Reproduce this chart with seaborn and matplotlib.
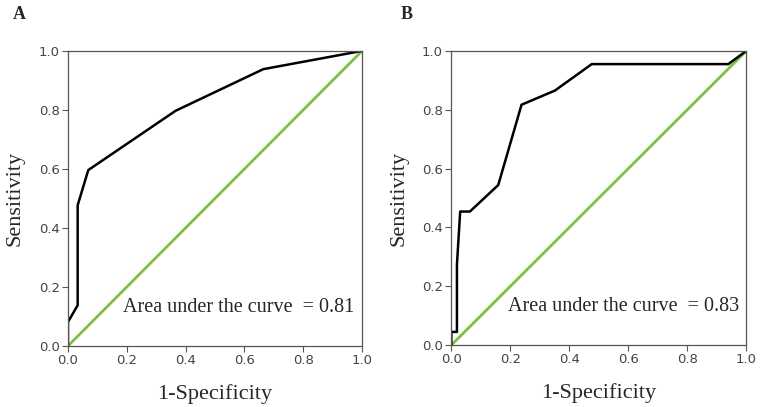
import matplotlib
matplotlib.use("Agg")
import matplotlib.pyplot as plt
import seaborn as sns
import pandas as pd

# Panel A ROC curve
fpr_a = [0.0, 0.0, 0.033, 0.033, 0.069, 0.366, 0.664, 1.0]
tpr_a = [0.0, 0.081, 0.138, 0.477, 0.596, 0.797, 0.938, 1.0]
# Panel B ROC curve
fpr_b = [0.0, 0.0, 0.019, 0.019, 0.030, 0.063, 0.159, 0.238, 0.351, 0.476, 0.939, 1.0]
tpr_b = [0.0, 0.045, 0.045, 0.274, 0.454, 0.454, 0.544, 0.817, 0.865, 0.955, 0.955, 1.0]
diag = [0.0, 1.0]
auc_labels = ["Area under the curve  = 0.81", "Area under the curve  = 0.83"]
panel_letters = ["A", "B"]
ticks = [0.0, 0.2, 0.4, 0.6, 0.8, 1.0]

sns.set_style("white")
fig = plt.figure(figsize=(7.62, 4.07), dpi=100)
ax_a = fig.add_axes([0.0892, 0.150, 0.386, 0.725])
ax_b = fig.add_axes([0.5923, 0.152, 0.3871, 0.723])

serif = ["Liberation Serif", "DejaVu Serif"]
green = "#7DC142"
for ax, fx, ty, lab in [(ax_a, fpr_a, tpr_a, auc_labels[0]),
                        (ax_b, fpr_b, tpr_b, auc_labels[1])]:
    sns.lineplot(x=diag, y=diag, ax=ax, color=green, lw=2, sort=False, estimator=None)
    sns.lineplot(x=fx, y=ty, ax=ax, color="black", lw=1.8, sort=False, estimator=None)
    ax.set_xlim(0, 1)
    ax.set_ylim(0, 1)
    ax.set_xticks(ticks)
    ax.set_yticks(ticks)
    ax.set_xticklabels([f"{t:.1f}" for t in ticks])
    ax.set_yticklabels([f"{t:.1f}" for t in ticks])
    ax.tick_params(axis="both", which="both", direction="out", length=4, width=0.8,
                   color="#555555", labelsize=9.5, labelcolor="#444444", pad=2,
                   left=True, bottom=True)
    for s in ax.spines.values():
        s.set_color("#555555")
        s.set_linewidth(0.9)
    ax.set_xlabel("1-Specificity", fontsize=16, family=serif, labelpad=12)
    ax.set_ylabel("Sensitivity", fontsize=16, family=serif, labelpad=10)
    ax.text(0.975, 0.13, lab, transform=ax.transAxes, ha="right", va="center",
            fontsize=14.5, family=serif)

fig.text(0.017, 0.965, panel_letters[0], fontsize=13, fontweight="bold", family=serif, va="center")
fig.text(0.526, 0.965, panel_letters[1], fontsize=13, fontweight="bold", family=serif, va="center")

fig.savefig("out.png", dpi=100)
